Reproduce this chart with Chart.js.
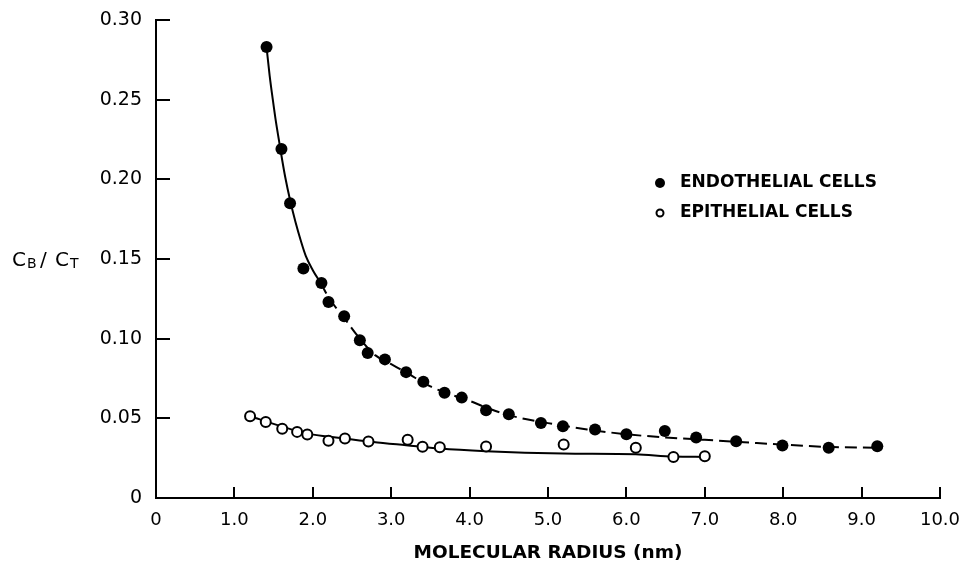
<!DOCTYPE html>
<html>
<head>
<meta charset="utf-8">
<script src="https://cdn.jsdelivr.net/npm/chart.js@4.4.1/dist/chart.umd.min.js"></script>
<style>
  html, body { margin: 0; padding: 0; background: #fff; }
  canvas { display: block; }
</style>
</head>
<body>
<canvas id="grafico" width="959" height="564"></canvas>
<script>
// data
const endoRadius = [1.41, 1.60, 1.71, 1.88, 2.11, 2.20, 2.40, 2.60, 2.70, 2.92, 3.19, 3.41, 3.68, 3.90, 4.21, 4.50, 4.91, 5.19, 5.60, 6.00, 6.49, 6.89, 7.40, 7.99, 8.58, 9.20];
const endoRatio  = [0.283, 0.219, 0.185, 0.144, 0.135, 0.123, 0.114, 0.099, 0.091, 0.087, 0.079, 0.073, 0.066, 0.063, 0.055, 0.0525, 0.047, 0.045, 0.043, 0.040, 0.042, 0.038, 0.0356, 0.033, 0.0315, 0.0325];

const epiRadius = [1.20, 1.40, 1.61, 1.80, 1.93, 2.20, 2.41, 2.71, 3.21, 3.40, 3.62, 4.21, 5.20, 6.12, 6.60, 7.00];
const epiRatio  = [0.0513, 0.0477, 0.0435, 0.0415, 0.0398, 0.036, 0.0373, 0.0354, 0.0365, 0.0321, 0.0319, 0.0323, 0.0336, 0.0315, 0.0258, 0.0262];

// fitted curves as traced
const endoSolidX = [1.41, 1.45, 1.49, 1.53, 1.57, 1.61, 1.65, 1.71, 1.78, 1.85, 1.91, 2.0, 2.1];
const endoSolidY = [0.283, 0.265, 0.250, 0.236, 0.224, 0.212, 0.201, 0.187, 0.173, 0.161, 0.152, 0.143, 0.135];
const endoDashX = [2.1, 2.2, 2.4, 2.6, 2.8, 3.0, 3.2, 3.5, 3.7, 4.0, 4.2, 4.5, 5.0, 5.5, 6.0, 6.5, 7.0, 7.5, 8.0, 8.5, 9.2];
const endoDashY = [0.135, 0.126, 0.113, 0.100, 0.0895, 0.084, 0.0785, 0.070, 0.066, 0.061, 0.057, 0.052, 0.047, 0.043, 0.040, 0.038, 0.0365, 0.035, 0.0335, 0.0322, 0.0315];
const epiFitX = [1.2, 1.6, 1.93, 2.35, 2.77, 3.19, 3.62, 4.21, 5.19, 6.12, 6.6, 7.0];
const epiFitY = [0.0513, 0.045, 0.0404, 0.0377, 0.0352, 0.0331, 0.031, 0.0294, 0.028, 0.0275, 0.026, 0.0258];

const xTicks = [0, 1, 2, 3, 4, 5, 6, 7, 8, 9, 10];
const xTickLabels = ["0", "1.0", "2.0", "3.0", "4.0", "5.0", "6.0", "7.0", "8.0", "9.0", "10.0"];
const yTicks = [0, 0.05, 0.10, 0.15, 0.20, 0.25, 0.30];
const yTickLabels = ["0", "0.05", "0.10", "0.15", "0.20", "0.25", "0.30"];

const legendLabels = ["ENDOTHELIAL CELLS", "EPITHELIAL CELLS"];
const xTitle = "MOLECULAR RADIUS (nm)";

const fonte = "'DejaVu Sans', sans-serif";

function pares(xs, ys) {
  return xs.map((x, i) => ({ x, y: ys[i] }));
}

// ticks pointing inward + y title + legend
const extras = {
  id: "extras",
  afterDraw(chart) {
    const ctx = chart.ctx;
    const { x, y } = chart.scales;
    const area = chart.chartArea;
    ctx.save();
    ctx.strokeStyle = "#000";
    ctx.lineWidth = 2;
    ctx.beginPath();
    xTicks.forEach(v => {
      const px = Math.round(x.getPixelForValue(v));
      ctx.moveTo(px, area.bottom);
      ctx.lineTo(px, area.bottom - 11);
    });
    yTicks.forEach(v => {
      const py = Math.round(y.getPixelForValue(v));
      ctx.moveTo(area.left, py);
      ctx.lineTo(area.left + 14, py);
    });
    ctx.stroke();

    // C_B / C_T
    ctx.fillStyle = "#000";
    ctx.textBaseline = "alphabetic";
    ctx.textAlign = "left";
    ctx.font = "20px " + fonte;
    ctx.fillText("C", 12, 266);
    ctx.fillText("/", 40, 266);
    ctx.fillText("C", 55, 266);
    ctx.font = "14px " + fonte;
    ctx.fillText("B", 27, 268);
    ctx.fillText("T", 70, 268);

    // legend
    ctx.beginPath();
    ctx.arc(660, 183, 5, 0, Math.PI * 2);
    ctx.fill();
    ctx.beginPath();
    ctx.arc(660, 213, 3.5, 0, Math.PI * 2);
    ctx.lineWidth = 2;
    ctx.stroke();
    ctx.font = "bold 17px " + fonte;
    ctx.textBaseline = "middle";
    ctx.fillText(legendLabels[0], 680, 183);
    ctx.fillText(legendLabels[1], 680, 213);
    ctx.restore();
  }
};

new Chart(document.getElementById("grafico"), {
  type: "scatter",
  data: {
    datasets: [
      {
        label: legendLabels[0],
        data: pares(endoRadius, endoRatio),
        pointRadius: 6,
        pointBackgroundColor: "#000",
        pointBorderWidth: 0,
        showLine: false,
        order: 0
      },
      {
        label: legendLabels[1],
        data: pares(epiRadius, epiRatio),
        pointRadius: 5,
        pointBackgroundColor: "#fff",
        pointBorderColor: "#000",
        pointBorderWidth: 2,
        showLine: false,
        order: 0
      },
      {
        label: "endo fit",
        data: pares(endoSolidX, endoSolidY),
        showLine: true,
        borderColor: "#000",
        borderWidth: 2,
        pointRadius: 0,
        cubicInterpolationMode: "monotone",
        order: 1
      },
      {
        label: "endo fit dashed",
        data: pares(endoDashX, endoDashY),
        showLine: true,
        borderColor: "#000",
        borderWidth: 2,
        borderDash: [12, 6],
        pointRadius: 0,
        cubicInterpolationMode: "monotone",
        order: 1
      },
      {
        label: "epi fit",
        data: pares(epiFitX, epiFitY),
        showLine: true,
        borderColor: "#000",
        borderWidth: 2,
        pointRadius: 0,
        cubicInterpolationMode: "monotone",
        order: 1
      }
    ]
  },
  options: {
    responsive: false,
    animation: false,
    devicePixelRatio: 1,
    layout: { padding: { top: 20, right: 19, left: 0, bottom: 0 } },
    plugins: {
      legend: { display: false },
      tooltip: { enabled: false }
    },
    scales: {
      x: {
        type: "linear",
        min: 0,
        max: 10,
        afterBuildTicks: s => { s.ticks = xTicks.map(v => ({ value: v })); },
        afterFit: s => { s.height = 66; s.paddingLeft = 0; s.paddingRight = 0; },
        grid: { display: false },
        border: { display: true, color: "#000", width: 2 },
        ticks: {
          color: "#000",
          font: { family: fonte, size: 18 },
          padding: 4,
          maxRotation: 0,
          callback: (v, i) => xTickLabels[i]
        },
        title: {
          display: true,
          text: xTitle,
          color: "#000",
          font: { family: fonte, size: 18.5, weight: "bold" },
          padding: { top: 0, bottom: 0 }
        }
      },
      y: {
        type: "linear",
        min: 0,
        max: 0.30,
        afterBuildTicks: s => { s.ticks = yTicks.map(v => ({ value: v })); },
        afterFit: s => { s.width = 156; s.paddingTop = 0; s.paddingBottom = 0; },
        grid: { display: false },
        border: { display: true, color: "#000", width: 2 },
        ticks: {
          color: "#000",
          font: { family: fonte, size: 19 },
          padding: 6,
          callback: (v, i) => yTickLabels[i]
        }
      }
    }
  },
  plugins: [extras]
});
</script>
</body>
</html>
